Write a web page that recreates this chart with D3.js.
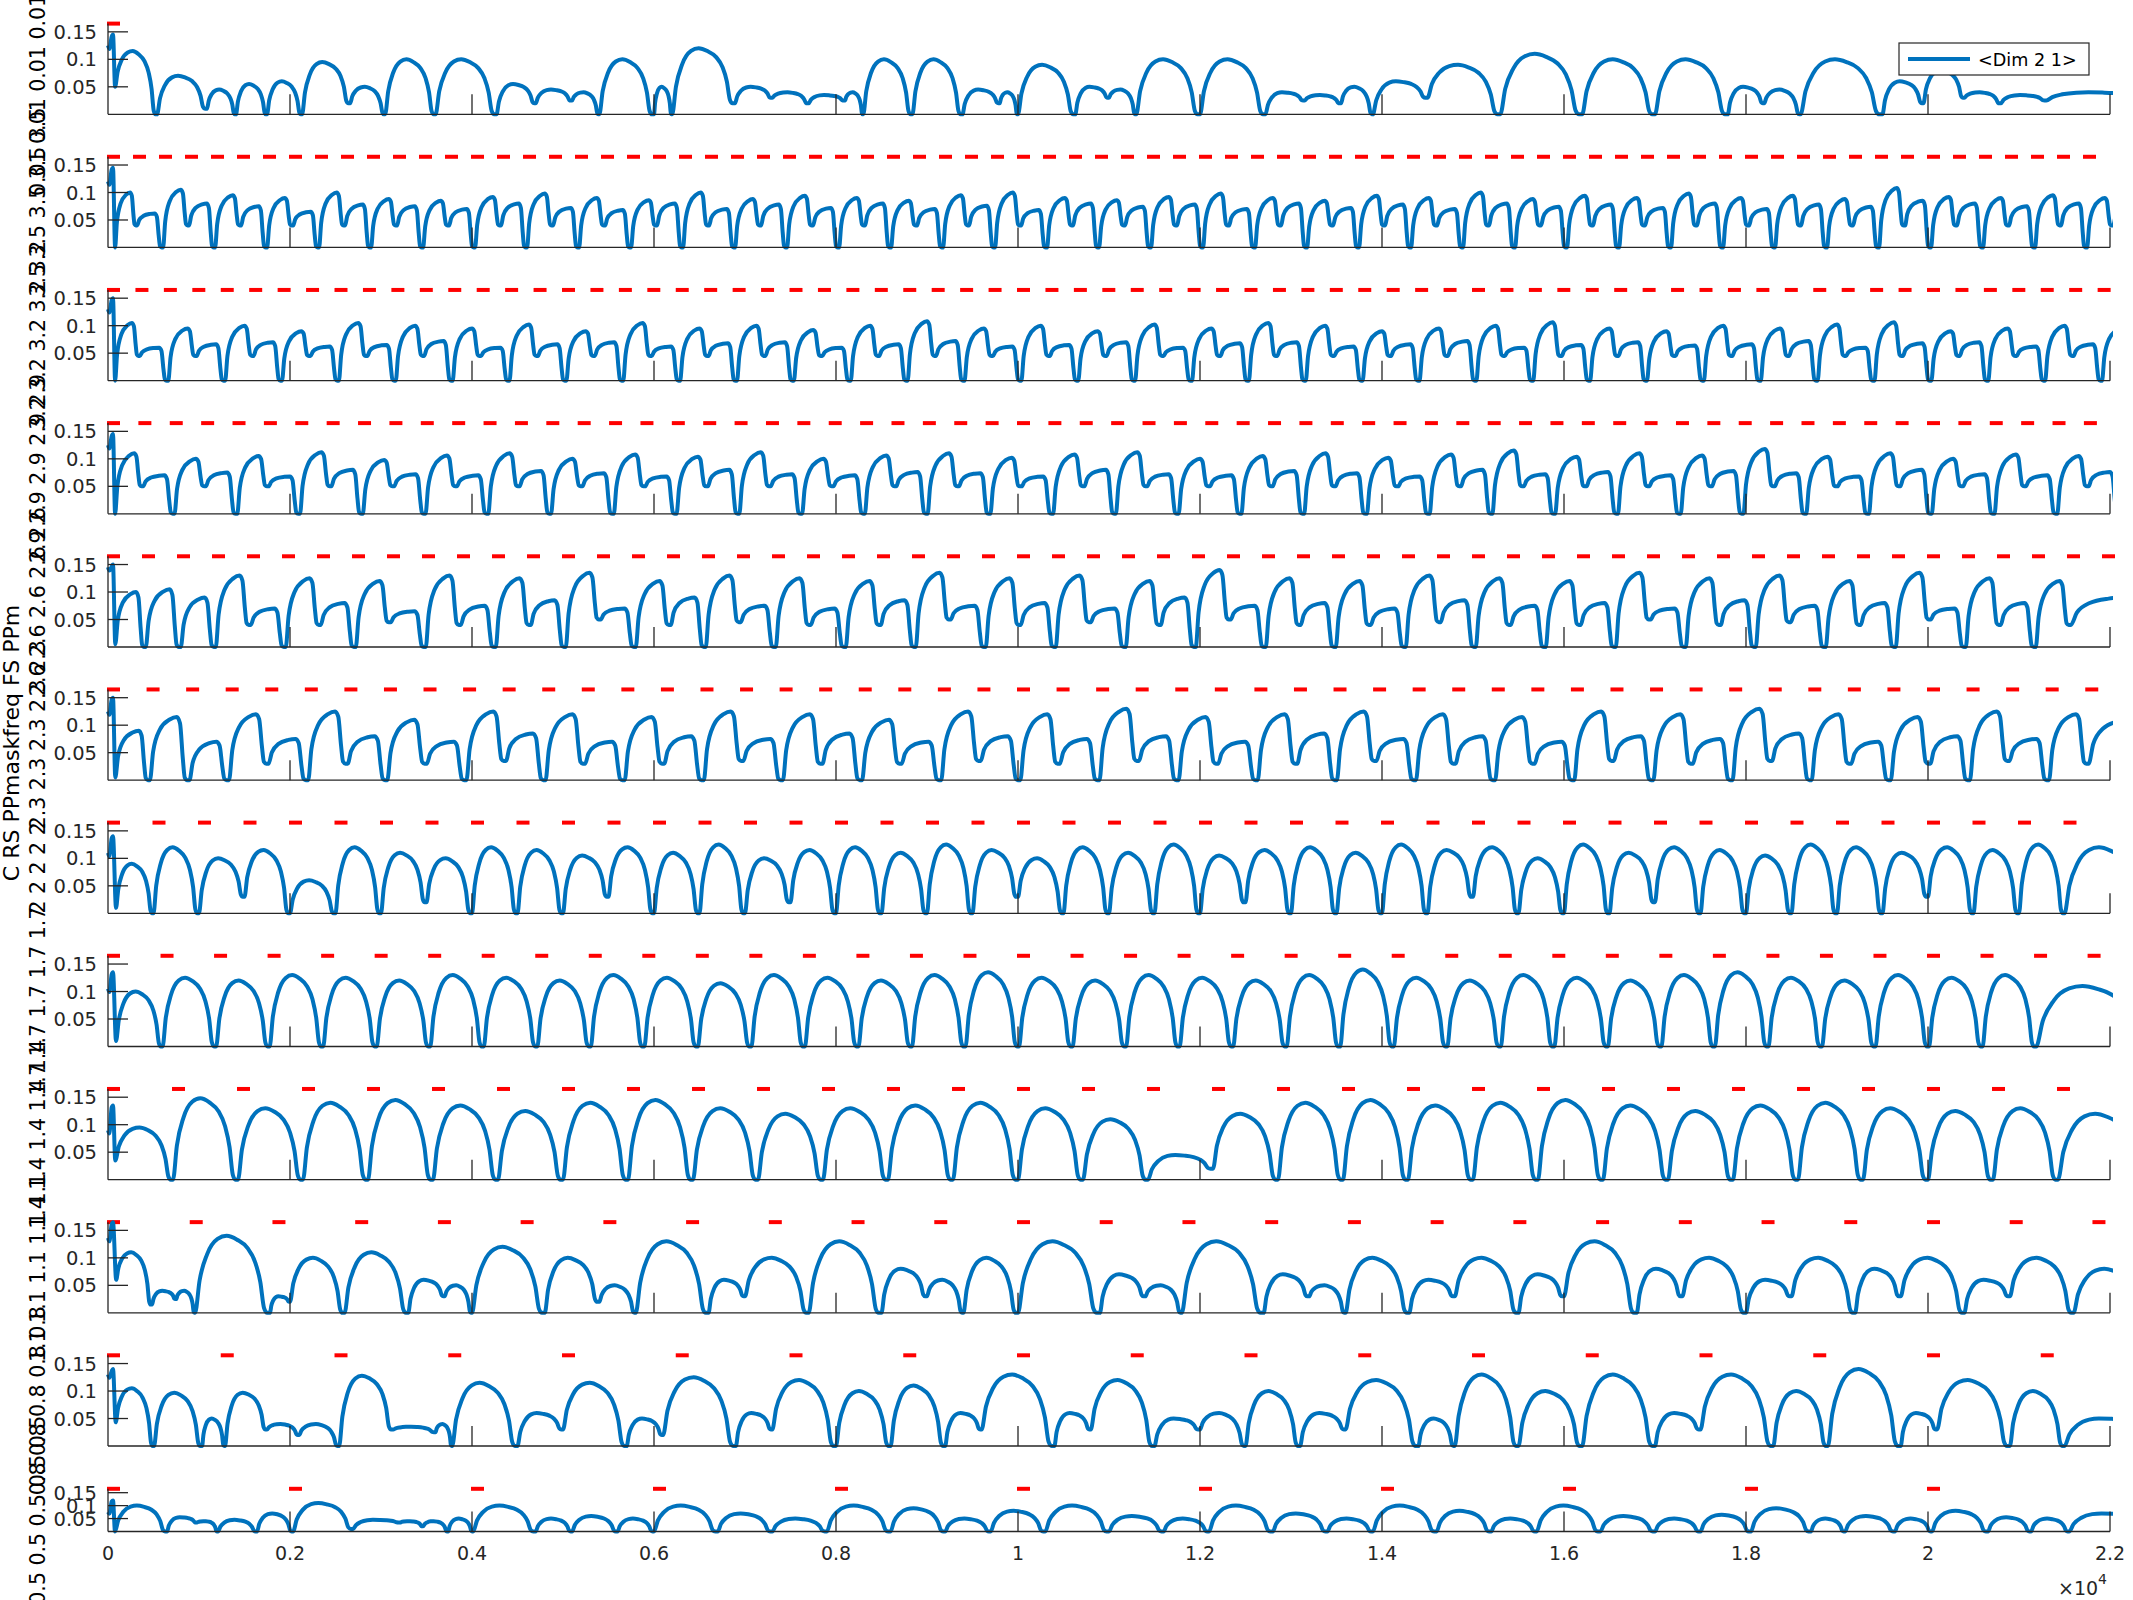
<!DOCTYPE html>
<html><head><meta charset="utf-8">
<script src="https://cdn.jsdelivr.net/npm/d3@7"></script>
<style>body{margin:0;background:#fff}svg{display:block}</style>
</head><body>
<svg id="chart" width="2133" height="1600"></svg>
<script>
// ---------------- DATA ----------------
const sampleRate = 1000;
const maskFreq = [0.01, 3.5, 3.2, 2.9, 2.6, 2.3, 2, 1.7, 1.4, 1.1, 0.8, 0.5];
const panelLabels = ["0.01 0.01 0.01 0.01 0.01","3.5 3.5 3.5 3.5 3.5","3.2 3.2 3.2 3.2 3.2","2.9 2.9 2.9 2.9 2.9","2.6 2.6 2.6 2.6 2.6","2.3 2.3 2.3 2.3 2.3","2 2 2 2 2","1.7 1.7 1.7 1.7 1.7","1.4 1.4 1.4 1.4 1.4","1.1 1.1 1.1 1.1 1.1","0.8 0.8 0.8 0.8 0.8","0.5 0.5 0.5 0.5 0.5"];
const figureLabel = "C RS PPmaskfreq FS PPm";
const legendLabel = "<Dim 2 1>";
const yMax = 0.165;
const yTicks = [0.05, 0.1, 0.15];
const yTickLabels = ["0.05", "0.1", "0.15"];
const xTicks = [0, 2000, 4000, 6000, 8000, 10000, 12000, 14000, 16000, 18000, 20000, 22000];
const xTickLabels = ["0","0.2","0.4","0.6","0.8","1","1.2","1.4","1.6","1.8","2","2.2"];
// start transient of each panel: [start value, spike top, floor value]
const spikeStart = [0.125, 0.12, 0.13, 0.125, 0.145, 0.125, 0.11, 0.105, 0.09, 0.136, 0.13, 0.075];
const spikeTop   = [0.145, 0.145, 0.15, 0.145, 0.15, 0.15, 0.14, 0.135, 0.135, 0.165, 0.14, 0.12];
const spikeFloor = [0.05, 0.0, 0.0, 0.0, 0.005, 0.005, 0.01, 0.01, 0.035, 0.06, 0.043, 0.0];

// panels 2-4 : two-period saw cycles (high peak, partial drop, shoulder)
const hi_p2 = [0.100,0.105,0.095,0.090,0.100,0.088,0.085,0.092,0.098,0.090,0.086,0.100,0.088,0.094,0.090,0.085,0.095,0.100,0.090,0.086,0.092,0.098,0.090,0.085,0.094,0.090,0.100,0.088,0.094,0.090,0.098,0.090,0.094,0.088,0.108,0.092,0.090,0.095,0.090];
const lo_p2 = [0.062,0.080,0.075,0.065,0.078,0.075,0.070,0.080,0.072,0.068,0.080,0.070,0.078,0.072,0.080,0.070,0.076,0.068,0.080,0.074,0.078,0.070,0.080,0.072,0.078,0.070,0.080,0.074,0.078,0.072,0.080,0.070,0.078,0.074,0.085,0.080,0.075,0.080,0.080];
const hi_p3 = [0.105,0.095,0.100,0.090,0.105,0.100,0.095,0.102,0.090,0.105,0.095,0.100,0.092,0.100,0.108,0.095,0.100,0.090,0.102,0.095,0.105,0.100,0.090,0.095,0.100,0.106,0.095,0.090,0.100,0.095,0.102,0.106,0.090,0.095,0.100,0.095];
const lo_p3 = [0.060,0.066,0.070,0.062,0.065,0.072,0.060,0.066,0.070,0.062,0.068,0.070,0.060,0.066,0.072,0.062,0.065,0.070,0.060,0.068,0.070,0.062,0.066,0.072,0.060,0.065,0.070,0.064,0.066,0.072,0.060,0.068,0.070,0.062,0.066,0.070];
const hi_p4 = [0.110,0.100,0.105,0.112,0.098,0.106,0.110,0.100,0.108,0.104,0.112,0.100,0.106,0.110,0.102,0.108,0.112,0.100,0.105,0.110,0.102,0.108,0.115,0.104,0.110,0.106,0.118,0.104,0.110,0.100,0.108,0.105,0.100];
const lo_p4 = [0.070,0.075,0.068,0.080,0.072,0.070,0.078,0.074,0.068,0.080,0.072,0.070,0.076,0.074,0.068,0.080,0.072,0.070,0.078,0.074,0.068,0.080,0.072,0.076,0.070,0.078,0.074,0.068,0.080,0.072,0.070,0.076,0.074];
const pairMid = {1: 0.04, 2: 0.045, 3: 0.05};

// panels 5-9 : one cycle per mask period
const peaks_p5 = [0.100,0.105,0.090,0.130,0.070,0.125,0.080,0.120,0.065,0.130,0.075,0.125,0.085,0.135,0.070,0.120,0.090,0.130,0.075,0.125,0.070,0.120,0.085,0.135,0.075,0.125,0.080,0.130,0.070,0.120,0.090,0.140,0.075,0.125,0.080,0.120,0.070,0.130,0.085,0.125,0.075,0.120,0.080,0.135,0.070,0.125,0.085,0.130,0.075,0.120,0.080,0.135,0.070,0.125,0.080,0.120,0.090];
const ends_p5  = [0,0,0,0.04,0,0.04,0,0.045,0,0.04,0,0.04,0,0.05,0,0.04,0,0.045,0,0.04,0,0.04,0,0.05,0,0.04,0,0.045,0,0.04,0,0.05,0,0.04,0,0.04,0,0.045,0,0.04,0,0.04,0,0.05,0,0.04,0,0.045,0,0.04,0,0.05,0,0.04,0,0.04,0];
const peaks_p6 = [0.090,0.115,0.070,0.120,0.075,0.125,0.080,0.110,0.070,0.125,0.085,0.120,0.070,0.115,0.080,0.125,0.075,0.120,0.085,0.110,0.070,0.125,0.080,0.120,0.075,0.130,0.080,0.115,0.070,0.120,0.085,0.125,0.075,0.120,0.080,0.115,0.070,0.125,0.080,0.120,0.075,0.130,0.085,0.120,0.070,0.115,0.080,0.125,0.075,0.120,0.110];
const ends_p6  = [0,0,0,0.03,0,0.03,0,0.03,0,0.035,0,0.03,0,0.03,0,0.035,0,0.03,0,0.03,0,0.035,0,0.03,0,0.035,0,0.03,0,0.03,0,0.035,0,0.03,0,0.03,0,0.035,0,0.03,0,0.035,0,0.03,0,0.03,0,0.035,0,0.03,0];
const peaks_p7 = [0.090,0.120,0.100,0.115,0.060,0.120,0.110,0.100,0.120,0.115,0.105,0.120,0.110,0.125,0.100,0.115,0.120,0.110,0.125,0.115,0.100,0.120,0.110,0.125,0.105,0.115,0.120,0.110,0.125,0.115,0.120,0.100,0.125,0.110,0.120,0.115,0.105,0.125,0.120,0.110,0.120,0.115,0.125,0.120];
const ends_p7  = [0,0,0.03,0,0,0,0.02,0,0,0,0.03,0,0,0,0.02,0,0,0,0,0.03,0,0,0,0,0.02,0,0,0,0,0.03,0,0,0,0.02,0,0,0,0,0,0.03,0,0,0,0];
const peaks_p8 = [0.100,0.125,0.120,0.130,0.125,0.120,0.130,0.125,0.120,0.130,0.125,0.115,0.130,0.125,0.120,0.130,0.135,0.125,0.120,0.130,0.125,0.120,0.130,0.140,0.125,0.120,0.130,0.125,0.120,0.130,0.135,0.125,0.120,0.130,0.125,0.130,0.110];
const ends_p8  = [0,0,0,0,0,0,0,0,0,0,0,0,0,0,0,0,0,0,0,0,0,0,0,0,0,0,0,0,0,0,0];
const peaks_p9 = [0.095,0.148,0.130,0.140,0.145,0.135,0.125,0.140,0.145,0.130,0.120,0.130,0.135,0.140,0.130,0.110,0.045,0.120,0.140,0.145,0.135,0.140,0.145,0.135,0.125,0.135,0.140,0.130,0.125,0.130,0.120];
const ends_p9  = [0,0,0,0,0,0,0,0,0,0,0,0,0,0,0,0,0.02,0,0,0,0,0,0,0,0,0,0,0,0,0,0];

// irregular panels: cycles [start sample, peak, end level]
const cycles_p1 = [[78,0.115,0],[539,0.07,0.01],[1088,0.045,0],[1407,0.055,0],[1748,0.06,0],[2133,0.095,0.02],[2661,0.05,0],[3046,0.1,0],[3600,0.1,0],[4270,0.055,0.02],[4700,0.045,0.025],[5100,0.04,0],[5400,0.1,0],[6000,0.05,0],[6200,0.12,0.02],[6890,0.05,0.03],[7300,0.04,0.02],[7700,0.035,0.025],[8100,0.04,0],[8300,0.1,0],[8840,0.1,0],[9390,0.045,0.02],[9800,0.04,0],[10000,0.09,0],[10630,0.05,0.03],[11000,0.045,0],[11300,0.1,0],[12000,0.1,0],[12720,0.04,0.025],[13150,0.035,0.02],[13550,0.05,0],[13900,0.06,0.03],[14500,0.09,0],[15300,0.11,0],[16200,0.1,0],[17000,0.1,0],[17800,0.05,0.02],[18200,0.045,0],[18600,0.1,0],[19500,0.06,0.02],[19950,0.08,0.03],[20400,0.04,0.02],[20800,0.035,0.025],[21300,0.04,0.03]];
const cycles_p10 = [[90,0.11,0.015],[484,0.04,0.025],[750,0.04,0],[957,0.14,0],[1781,0.03,0.02],[2000,0.1,0],[2600,0.11,0],[3300,0.06,0.03],[3700,0.05,0],[4000,0.12,0],[4800,0.1,0.02],[5400,0.05,0],[5800,0.13,0],[6600,0.06,0.03],[7000,0.1,0],[7700,0.13,0],[8500,0.08,0.03],[9000,0.06,0],[9400,0.1,0],[10000,0.13,0],[10900,0.07,0.03],[11400,0.05,0],[11800,0.13,0],[12700,0.07,0.03],[13200,0.05,0],[13600,0.1,0],[14300,0.06,0.03],[14800,0.1,0],[15500,0.07,0.03],[16000,0.13,0],[16800,0.08,0.03],[17300,0.1,0],[18000,0.06,0.03],[18500,0.1,0],[19200,0.08,0.03],[19700,0.1,0],[20400,0.06,0.03],[20900,0.1,0],[21600,0.08,0]];
const cycles_p11 = [[85,0.105,0],[506,0.097,0],[1034,0.05,0],[1286,0.097,0.03],[1748,0.04,0.02],[2100,0.04,0],[2540,0.128,0.03],[3134,0.035,0.025],[3600,0.04,0],[3782,0.115,0],[4500,0.06,0.03],[5000,0.115,0],[5700,0.05,0.02],[6100,0.125,0],[6900,0.06,0.03],[7300,0.12,0],[8000,0.1,0],[8600,0.11,0],[9200,0.06,0.03],[9600,0.13,0],[10400,0.06,0.03],[10800,0.12,0],[11500,0.05,0.03],[12000,0.06,0],[12500,0.1,0],[13100,0.06,0.03],[13600,0.12,0],[14400,0.05,0],[14800,0.13,0],[15500,0.1,0],[16200,0.13,0],[17000,0.06,0.03],[17500,0.13,0],[18300,0.1,0],[18900,0.14,0],[19700,0.06,0.03],[20100,0.12,0],[20900,0.1,0],[21500,0.05,0.04]];
const cycles_p12 = [[77,0.1,0],[649,0.055,0.035],[979,0.04,0],[1209,0.045,0],[1638,0.07,0],[2034,0.11,0.01],[2694,0.045,0.035],[3211,0.04,0.02],[3463,0.04,0],[3738,0.05,0],[4013,0.1,0],[4700,0.05,0],[5100,0.06,0],[5600,0.05,0],[6000,0.1,0],[6700,0.07,0],[7300,0.05,0],[7900,0.1,0],[8600,0.09,0],[9200,0.05,0],[9700,0.08,0],[10300,0.1,0],[11000,0.06,0],[11600,0.05,0],[12100,0.1,0],[12800,0.07,0],[13400,0.05,0],[13900,0.1,0],[14600,0.08,0],[15200,0.05,0],[15700,0.1,0],[16400,0.06,0],[17000,0.05,0],[17500,0.065,0],[18054,0.09,0],[18714,0.05,0],[19088,0.06,0],[19637,0.05,0],[20044,0.08,0],[20660,0.055,0],[21133,0.05,0],[21550,0.07,0.045]];

// ---------------- BUILD ----------------
const font = "DejaVu Sans, Liberation Sans, sans-serif";
const axisColor = "#262626";
const lineColor = "#0072BD";
const svg = d3.select("#chart");
const x = d3.scaleLinear().domain([0, 22000]).range([108, 2110]);

function pairsToCycles(hi, lo, mid) {
  const peaks = [], ends = [];
  hi.forEach((h, i) => { peaks.push(h, lo[i]); ends.push(mid, 0); });
  return {peaks, ends};
}
function lockedCycles(freq, peaks, ends, lagFrac, floorX) {
  const T = sampleRate / freq;
  return peaks.map((p, i) => [i === 0 ? floorX : (i + lagFrac) * T, p, ends[i] || 0]);
}
function domeShape(a, p, e) {
  return [[0.06, a + .42*(p-a)], [0.16, a + .76*(p-a)], [0.3, a + .96*(p-a)], [0.42, p],
          [0.56, p - .05*(p-e)], [0.7, p - .16*(p-e)], [0.8, p - .34*(p-e)], [0.87, e + .4*(p-e)],
          [0.92, e + .06*(p-e)], [0.96, e], [1, e]];
}
function sawShape(a, p, e) {
  return [[0.08, a + .45*(p-a)], [0.25, a + .8*(p-a)], [0.5, a + .96*(p-a)], [0.68, p],
          [0.76, p - .1*(p-e)], [0.83, e + .35*(p-e)], [0.88, e + .04*(p-e)], [0.94, e], [1, e]];
}
function buildPoints(k, cycles, shape) {
  const floorX = cycles[0][0];
  const pts = [[0, spikeStart[k]], [15, spikeStart[k] - 0.006], [40, spikeTop[k] - 0.004], [55, spikeTop[k]], [floorX, spikeFloor[k]]];
  let a = spikeFloor[k];
  cycles.forEach((c, i) => {
    const x0 = c[0];
    const x1 = i + 1 < cycles.length ? cycles[i + 1][0] : Math.max(22400, x0 + 300);
    const w = x1 - x0;
    shape(a, c[1], c[2]).forEach(([u, v]) => pts.push([x0 + u * w, v]));
    a = c[2];
  });
  return pts;
}

const panelSeries = [];
panelSeries[0] = buildPoints(0, cycles_p1, domeShape);
[[1, hi_p2, lo_p2], [2, hi_p3, lo_p3], [3, hi_p4, lo_p4]].forEach(([k, hi, lo]) => {
  const c = pairsToCycles(hi, lo, pairMid[k]);
  panelSeries[k] = buildPoints(k, lockedCycles(maskFreq[k], c.peaks, c.ends, 0.12, 78), sawShape);
});
panelSeries[4] = buildPoints(4, lockedCycles(maskFreq[4], peaks_p5, ends_p5, 0.08, 80), sawShape);
panelSeries[5] = buildPoints(5, lockedCycles(maskFreq[5], peaks_p6, ends_p6, 0.06, 80), sawShape);
panelSeries[6] = buildPoints(6, lockedCycles(maskFreq[6], peaks_p7, ends_p7, 0.0, 88), domeShape);
panelSeries[7] = buildPoints(7, lockedCycles(maskFreq[7], peaks_p8, ends_p8, 0.02, 88), domeShape);
panelSeries[8] = buildPoints(8, lockedCycles(maskFreq[8], peaks_p9, ends_p9, 0.0, 80), domeShape);
panelSeries[9] = buildPoints(9, cycles_p10, domeShape);
panelSeries[10] = buildPoints(10, cycles_p11, domeShape);
panelSeries[11] = buildPoints(11, cycles_p12, domeShape);

const defs = svg.append("defs");
maskFreq.forEach((f, k) => {
  const bottom = k < 11 ? 114.3 + k * 133.17 : 1531.5;
  const height = k < 11 ? 90.7 : 42.7;
  const top = bottom - height;
  const y = d3.scaleLinear().domain([0, yMax]).range([bottom, top]);
  const g = svg.append("g");

  defs.append("clipPath").attr("id", "clip" + k).append("rect")
    .attr("x", x(0) - 3).attr("y", top - 3).attr("width", x(22000) - x(0) + 6).attr("height", height + 6);

  // red mask markers at each mask period onset
  const T = sampleRate / f;
  const onsets = d3.range(0, 22000, T);
  g.selectAll("line.mask").data(onsets).join("line")
    .attr("x1", d => x(d) - 1).attr("x2", d => x(d) + 12)
    .attr("y1", y(yMax)).attr("y2", y(yMax))
    .attr("stroke", "#FF0000").attr("stroke-width", 4);

  // signal line
  const line = d3.line().x(d => x(d[0])).y(d => y(d[1])).curve(d3.curveMonotoneX);
  g.append("path").datum(panelSeries[k])
    .attr("clip-path", "url(#clip" + k + ")")
    .attr("d", line).attr("fill", "none")
    .attr("stroke", lineColor).attr("stroke-width", 4).attr("stroke-linejoin", "round");

  // axes
  g.append("line").attr("x1", x(0)).attr("x2", x(22000)).attr("y1", bottom).attr("y2", bottom)
    .attr("stroke", axisColor).attr("stroke-width", 1.3);
  g.append("line").attr("x1", x(0)).attr("x2", x(0)).attr("y1", bottom).attr("y2", top)
    .attr("stroke", axisColor).attr("stroke-width", 1.3);
  g.selectAll("line.xt").data(xTicks.slice(1)).join("line")
    .attr("x1", d => x(d)).attr("x2", d => x(d)).attr("y1", bottom).attr("y2", bottom - 20)
    .attr("stroke", axisColor).attr("stroke-width", 1.3);
  g.selectAll("line.yt").data(yTicks).join("line")
    .attr("x1", x(0)).attr("x2", x(0) + 20).attr("y1", d => y(d)).attr("y2", d => y(d))
    .attr("stroke", axisColor).attr("stroke-width", 1.3);
  g.selectAll("text.yl").data(yTicks).join("text")
    .attr("x", 97).attr("y", d => y(d)).attr("dy", "0.36em")
    .attr("text-anchor", "end").attr("font-family", font).attr("font-size", 19.5)
    .attr("fill", axisColor).text((d, i) => yTickLabels[i]);

  // panel label
  svg.append("text")
    .attr("transform", `translate(45,${(top + bottom) / 2}) rotate(-90)`)
    .attr("text-anchor", "middle").attr("font-family", font).attr("font-size", 20.5)
    .attr("fill", "#000").text(panelLabels[k]);

  if (k === 11) {
    svg.selectAll("text.xl").data(xTicks).join("text")
      .attr("x", d => x(d)).attr("y", 1560).attr("text-anchor", "middle")
      .attr("font-family", font).attr("font-size", 19).attr("fill", axisColor)
      .text((d, i) => xTickLabels[i]);
  }
  if (k === 0) {
    const lg = svg.append("g");
    lg.append("rect").attr("x", 1899).attr("y", 43).attr("width", 190).attr("height", 32)
      .attr("fill", "#fff").attr("stroke", axisColor).attr("stroke-width", 1.2);
    lg.append("line").attr("x1", 1908).attr("x2", 1970).attr("y1", 59).attr("y2", 59)
      .attr("stroke", lineColor).attr("stroke-width", 4);
    lg.append("text").attr("x", 1978).attr("y", 65.5).attr("font-family", font)
      .attr("font-size", 17.6).attr("fill", "#000").text(legendLabel);
  }
});

// x exponent
const ex = svg.append("text").attr("x", 2107).attr("y", 1595).attr("text-anchor", "end")
  .attr("font-family", font).attr("font-size", 19).attr("fill", axisColor);
ex.append("tspan").text("×10");
ex.append("tspan").attr("dy", -11).attr("font-size", 14).text("4");

// figure y label
svg.append("text").attr("transform", "translate(19,743) rotate(-90)")
  .attr("text-anchor", "middle").attr("font-family", font).attr("font-size", 22)
  .attr("fill", "#000").text(figureLabel);
</script>
</body></html>
